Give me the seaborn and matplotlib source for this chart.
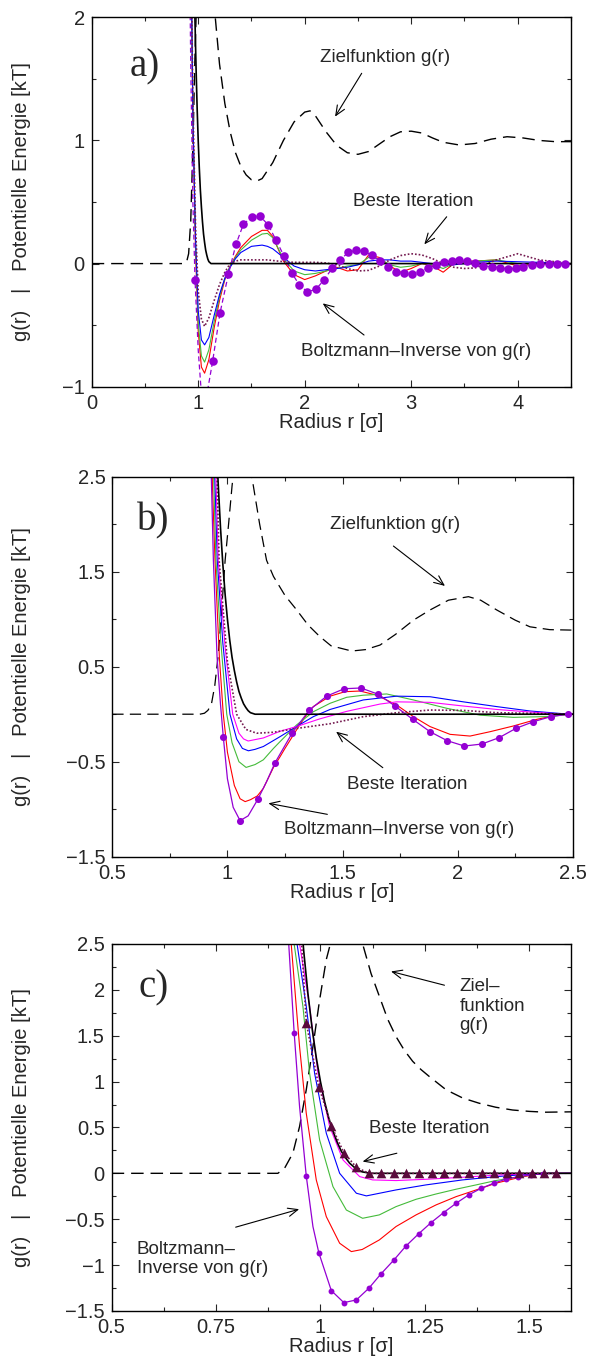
"""
Iterative Boltzmann-Inversion: Potentiale der Iterationen im Vergleich (a, b, c).
"""

import numpy as np
import seaborn as sns
import matplotlib.pyplot as plt
from matplotlib.ticker import FixedLocator, MultipleLocator

# ---- Daten ----

# Zielpotential (schwarz, durchgezogen), in allen Teilbildern gleich
wca_x = [0.93, 0.94, 0.95, 0.96, 0.97, 0.98, 0.99, 1.0, 1.01, 1.02,
         1.03, 1.04, 1.05, 1.06, 1.07, 1.08, 1.09, 1.1, 1.12, 4.5]
wca_y = [4.37, 3.61, 2.96, 2.42, 1.96, 1.58, 1.26, 1.0, 0.78, 0.6,
         0.46, 0.34, 0.24, 0.17, 0.11, 0.07, 0.037, 0.016, 0.0, 0.0]

# --- a) ---
a_g_x = [0.0, 0.86, 0.89, 0.91, 0.93, 0.95, 0.97, 1.0, 1.05, 1.1,
         1.16, 1.2, 1.25, 1.3, 1.35, 1.4, 1.45, 1.5, 1.55, 1.6,
         1.7, 1.8, 1.9, 2.0, 2.05, 2.1, 2.2, 2.3, 2.4, 2.5,
         2.6, 2.7, 2.8, 2.9, 3.0, 3.1, 3.2, 3.3, 3.45, 3.6,
         3.75, 3.9, 4.05, 4.2, 4.35, 4.5]
a_g_y = [0.0, 0.0, 0.01, 0.08, 0.35, 0.95, 1.7, 2.6, 3.1, 2.6,
         2.0, 1.62, 1.3, 1.07, 0.9, 0.79, 0.72, 0.68, 0.67, 0.69,
         0.82, 1.0, 1.15, 1.23, 1.24, 1.2, 1.07, 0.96, 0.9, 0.887,
         0.91, 0.97, 1.03, 1.07, 1.075, 1.06, 1.02, 0.985, 0.963, 0.975,
         1.01, 1.03, 1.02, 1.0, 0.99, 0.99]

a_it_x = [0.92, 0.95, 0.975, 1.0, 1.03, 1.06, 1.10, 1.15, 1.2, 1.25,
          1.3, 1.35, 1.4, 1.5, 1.6, 1.65, 1.7, 1.8, 1.9, 2.0,
          2.1, 2.2, 2.3, 2.4, 2.5, 2.6, 2.7, 2.8, 2.9, 3.0,
          3.1, 3.2, 3.3, 3.4, 3.5, 3.6, 3.8, 4.0, 4.2, 4.5]
a_red_y = [3.5, 1.2, 0.1, -0.55, -0.84, -0.89, -0.78, -0.52, -0.3, -0.13,
           -0.02, 0.06, 0.13, 0.22, 0.27, 0.27, 0.22, 0.02, -0.09, -0.13,
           -0.10, -0.06, -0.03, -0.06, -0.05, 0.07, 0.05, -0.02, -0.07, -0.04,
           0.0, -0.02, -0.07, 0.0, 0.02, 0.02, 0.03, -0.02, 0.0, 0.0]
a_green_y = [3.5, 1.2, 0.15, -0.48, -0.75, -0.80, -0.70, -0.47, -0.27, -0.12,
             -0.02, 0.05, 0.11, 0.19, 0.24, 0.245, 0.21, 0.04, -0.06, -0.09,
             -0.08, -0.06, -0.04, -0.02, -0.01, 0.05, 0.04, -0.01, -0.03, -0.02,
             0.0, -0.01, -0.04, 0.0, 0.01, 0.02, 0.03, 0.0, 0.0, 0.0]
a_blue_y = [3.5, 1.2, 0.2, -0.38, -0.62, -0.66, -0.60, -0.42, -0.25, -0.12,
            -0.03, 0.04, 0.09, 0.14, 0.15, 0.14, 0.12, 0.05, -0.02, -0.05,
            -0.06, -0.05, -0.04, -0.03, -0.01, 0.02, 0.03, 0.03, 0.02, 0.02,
            0.01, 0.0, -0.01, -0.01, 0.0, 0.01, 0.02, 0.015, 0.01, 0.0]
a_best_y = [3.5, 1.3, 0.3, -0.22, -0.45, -0.51, -0.44, -0.30, -0.17, -0.07,
            0.0, 0.02, 0.03, 0.03, 0.03, 0.03, 0.025, 0.015, 0.01, 0.01,
            0.01, 0.005, -0.01, -0.04, -0.06, -0.055, -0.02, 0.03, 0.065, 0.08,
            0.07, 0.04, 0.0, -0.03, -0.04, -0.035, 0.03, 0.08, 0.03, 0.0]

# Boltzmann-Inverse: Punkte + Zwischenpunkte der Linie
a_bi_dot_x = [0.97, 1.05, 1.136, 1.205, 1.283, 1.355, 1.424, 1.502, 1.58, 1.658,
              1.731, 1.806, 1.878, 1.95, 2.025, 2.103, 2.181, 2.256, 2.332, 2.41,
              2.482, 2.557, 2.63, 2.707, 2.785, 2.857, 2.93, 3.005, 3.083, 3.155,
              3.233, 3.308, 3.38, 3.452, 3.527, 3.6, 3.677, 3.756, 3.834, 3.906,
              3.981, 4.05, 4.13, 4.21, 4.29, 4.366, 4.44]
a_bi_dot_y = [-0.13, -1.12, -0.79, -0.40, -0.088, 0.158, 0.318, 0.38, 0.386, 0.313,
              0.19, 0.061, -0.075, -0.175, -0.229, -0.21, -0.134, -0.039, 0.028, 0.093,
              0.107, 0.10, 0.069, 0.023, -0.026, -0.066, -0.08, -0.085, -0.066, -0.039,
              -0.012, 0.01, 0.023, 0.028, 0.023, 0.007, -0.018, -0.026, -0.034, -0.042,
              -0.039, -0.026, -0.012, -0.004, 0.0, 0.0, 0.0]
a_bi_ex_x = [0.90, 0.93, 0.95, 1.0, 1.025, 1.09, 4.5]
a_bi_ex_y = [4.0, 1.6, 0.5, -0.7, -1.0, -1.02, 0.0]

# --- b) ---
b_g_x = [0.5, 0.88, 0.9, 0.915, 0.93, 0.945, 0.96, 0.975, 0.99, 1.005,
         1.02, 1.04, 1.06, 1.085, 1.106, 1.14, 1.17, 1.2, 1.25, 1.3,
         1.35, 1.4, 1.45, 1.54, 1.6, 1.663, 1.73, 1.808, 1.88, 1.96,
         2.047, 2.1, 2.17, 2.25, 2.314, 2.4, 2.5]
b_g_y = [0.0, 0.0, 0.01, 0.04, 0.1, 0.3, 0.62, 1.1, 1.62, 2.0,
         2.4, 2.85, 3.0, 2.85, 2.5, 2.0, 1.62, 1.45, 1.25, 1.1,
         0.94, 0.82, 0.72, 0.665, 0.68, 0.728, 0.84, 0.99, 1.097, 1.2,
         1.237, 1.2, 1.097, 0.99, 0.92, 0.89, 0.885]

b_red_x = [0.925, 0.935, 0.946, 0.965, 0.982, 1.0, 1.03, 1.055, 1.077, 1.1,
           1.13, 1.156, 1.2, 1.228, 1.25, 1.3, 1.345, 1.373, 1.446, 1.511,
           1.576, 1.649, 1.735, 1.808, 1.88, 1.967, 2.054, 2.141, 2.242, 2.344,
           2.43, 2.5]
b_red_y = [3.5, 2.4, 1.62, 0.6, 0.0, -0.4, -0.75, -0.89, -0.92, -0.9,
           -0.86, -0.78, -0.56, -0.45, -0.36, -0.166, 0.0, 0.08, 0.19, 0.237,
           0.244, 0.2, 0.097, -0.026, -0.13, -0.212, -0.23, -0.184, -0.124, -0.054,
           -0.01, 0.0]
b_green_x = [0.925, 0.94, 0.95, 0.97, 0.997, 1.02, 1.05, 1.081, 1.12, 1.156,
             1.2, 1.228, 1.3, 1.373, 1.446, 1.518, 1.59, 1.692, 1.808, 1.953,
             2.097, 2.242, 2.387, 2.5]
b_green_y = [3.5, 2.5, 1.62, 0.8, 0.0, -0.3, -0.5, -0.56, -0.53, -0.48,
             -0.36, -0.29, -0.114, 0.026, 0.115, 0.178, 0.2, 0.213, 0.15, 0.062,
             -0.01, -0.033, -0.025, 0.0]
b_blue_x = [0.93, 0.945, 0.956, 0.98, 1.011, 1.04, 1.065, 1.091, 1.12, 1.156,
            1.228, 1.3, 1.373, 1.446, 1.59, 1.735, 1.88, 2.025, 2.17, 2.314,
            2.46, 2.5]
b_blue_y = [3.5, 2.5, 1.62, 0.75, 0.0, -0.26, -0.36, -0.385, -0.37, -0.34,
            -0.237, -0.13, -0.026, 0.05, 0.15, 0.19, 0.184, 0.13, 0.08, 0.034,
            0.005, 0.0]
b_mag_x = [0.935, 0.95, 0.96, 0.99, 1.023, 1.05, 1.07, 1.09, 1.156, 1.228,
           1.3, 1.4, 1.518, 1.663, 1.735, 1.88, 2.025, 2.17, 2.314, 2.46, 2.5]
b_mag_y = [3.5, 2.5, 1.62, 0.7, 0.0, -0.2, -0.26, -0.282, -0.25, -0.18,
           -0.13, -0.05, 0.03, 0.107, 0.13, 0.125, 0.086, 0.05, 0.023, 0.0, 0.0]
b_best_x = [0.94, 0.955, 0.964, 1.0, 1.04, 1.08, 1.127, 1.2, 1.3, 1.446,
            1.59, 1.735, 1.88, 2.025, 2.17, 2.314, 2.46, 2.5]
b_best_y = [3.5, 2.5, 1.62, 0.55, 0.0, -0.16, -0.2, -0.19, -0.15, -0.1,
            -0.026, 0.016, 0.044, 0.04, 0.016, 0.01, 0.0, 0.0]

b_bi_dot_x = [0.982, 1.055, 1.132, 1.207, 1.282, 1.356, 1.431, 1.507, 1.58, 1.656,
              1.728, 1.805, 1.88, 1.955, 2.029, 2.105, 2.18, 2.254, 2.329, 2.404,
              2.48]
b_bi_dot_y = [-0.237, -1.12, -0.896, -0.51, -0.195, 0.044, 0.19, 0.268, 0.276, 0.209,
              0.086, -0.054, -0.184, -0.279, -0.335, -0.314, -0.247, -0.148, -0.079, -0.026,
              0.0]
b_bi_ex_x = [0.915, 0.93, 0.939, 0.955, 0.97, 1.0, 1.025, 1.09, 1.17, 2.5]
b_bi_ex_y = [3.5, 2.5, 1.62, 0.6, 0.1, -0.68, -0.98, -1.07, -0.71, 0.0]

# --- c) ---
c_g_x = [0.5, 0.898, 0.914, 0.934, 0.95, 0.966, 0.982, 0.998, 1.014, 1.026,
         1.04, 1.06, 1.08, 1.101, 1.121, 1.141, 1.161, 1.181, 1.201, 1.221,
         1.241, 1.261, 1.301, 1.341, 1.38, 1.42, 1.46, 1.5, 1.54, 1.6]
c_g_y = [0.0, 0.0, 0.055, 0.22, 0.51, 0.91, 1.38, 1.89, 2.33, 2.54,
         2.85, 3.0, 2.85, 2.5, 2.18, 1.93, 1.68, 1.49, 1.34, 1.22,
         1.13, 1.054, 0.91, 0.82, 0.764, 0.72, 0.69, 0.675, 0.666, 0.67]

c_red_x = [0.925, 0.93, 0.942, 0.95, 0.966, 0.99, 1.014, 1.046, 1.074, 1.1,
           1.141, 1.181, 1.229, 1.277, 1.325, 1.373, 1.42, 1.468, 1.516, 1.55, 1.6]
c_red_y = [3.0, 2.5, 1.82, 1.38, 0.655, -0.072, -0.472, -0.762, -0.853, -0.83,
           -0.726, -0.58, -0.453, -0.344, -0.254, -0.181, -0.108, -0.054, -0.01, 0.0, 0.0]
c_green_x = [0.93, 0.937, 0.958, 0.974, 0.998, 1.03, 1.062, 1.101, 1.141, 1.181,
             1.229, 1.277, 1.325, 1.373, 1.42, 1.468, 1.516, 1.55, 1.6]
c_green_y = [3.0, 2.5, 1.82, 1.09, 0.364, -0.145, -0.4, -0.49, -0.453, -0.363,
             -0.283, -0.225, -0.173, -0.126, -0.079, -0.043, -0.01, 0.0, 0.0]
c_blue_x = [0.937, 0.944, 0.966, 0.986, 1.014, 1.046, 1.086, 1.11, 1.181, 1.253,
            1.34, 1.42, 1.5, 1.55, 1.6]
c_blue_y = [3.0, 2.5, 1.82, 1.09, 0.437, 0.0, -0.217, -0.246, -0.181, -0.126,
            -0.072, -0.036, -0.01, 0.0, 0.0]
c_mag_x = [0.943, 0.95, 0.974, 0.994, 1.022, 1.054, 1.094, 1.125, 1.181, 1.253,
           1.34, 1.42, 1.5, 1.55, 1.6]
c_mag_y = [3.0, 2.5, 1.82, 1.09, 0.51, 0.146, -0.036, -0.072, -0.079, -0.065,
           -0.043, -0.02, -0.005, 0.0, 0.0]

# Beste Iteration: Dreiecke + Zwischenpunkte
c_best_tri_x = [0.966, 0.996, 1.026, 1.056, 1.086, 1.116, 1.146, 1.176, 1.206, 1.236,
                1.266, 1.296, 1.326, 1.356, 1.386, 1.416, 1.446, 1.476, 1.506, 1.536,
                1.565]
c_best_tri_y = [1.64, 0.945, 0.517, 0.226, 0.066, 0.0, 0.0, 0.0, 0.0, 0.0,
                0.0, 0.0, 0.0, 0.0, 0.0, 0.0, 0.0, 0.0, 0.0, 0.0,
                0.0]
c_best_ex_x = [0.95, 0.955]
c_best_ex_y = [3.0, 2.5]

c_bi_dot_x = [0.937, 0.966, 0.996, 1.026, 1.056, 1.086, 1.116, 1.145, 1.176, 1.205,
              1.235, 1.265, 1.295, 1.325, 1.355, 1.385, 1.415, 1.444, 1.474, 1.504,
              1.534]
c_bi_dot_y = [1.534, -0.028, -0.864, -1.278, -1.409, -1.38, -1.252, -1.096, -0.944, -0.791,
              -0.66, -0.537, -0.428, -0.326, -0.235, -0.163, -0.108, -0.064, -0.036, -0.017,
              -0.005]
c_bi_ex_x = [0.92, 0.95, 0.982, 1.6]
c_bi_ex_y = [2.8, 0.727, -0.58, 0.0]

# Achsenbeschriftungen
a_xticks, a_xlabels = [0, 1, 2, 3, 4], ["0", "1", "2", "3", "4"]
a_yticks, a_ylabels = [-1, 0, 1, 2], ["\u22121", "0", "1", "2"]
b_xticks, b_xlabels = [0.5, 1, 1.5, 2, 2.5], ["0.5", "1", "1.5", "2", "2.5"]
b_yticks, b_ylabels = [-1.5, -0.5, 0.5, 1.5, 2.5], ["\u22121.5", "\u22120.5", "0.5", "1.5", "2.5"]
c_xticks, c_xlabels = [0.5, 0.75, 1, 1.25, 1.5], ["0.5", "0.75", "1", "1.25", "1.5"]
c_yticks = [-1.5, -1, -0.5, 0, 0.5, 1, 1.5, 2, 2.5]
c_ylabels = ["\u22121.5", "\u22121", "\u22120.5", "0", "0.5", "1", "1.5", "2", "2.5"]

PURPLE = "#9400d3"
RED = "#ff0000"
GREEN = "#44bb3a"
BLUE = "#0000ff"
MAGENTA = "#ff00ff"
MAROON = "#741a50"
TRI = "#5a0a3c"

FS = 14.5
FS_TXT = 13.5


def line(ax, x, y, color, lw=0.8, ls="-", z=2):
    sns.lineplot(x=x, y=y, ax=ax, color=color, lw=lw, linestyle=ls,
                 sort=False, estimator=None, zorder=z)


def points(ax, x, y, color, s, marker="o", z=5):
    sns.scatterplot(x=x, y=y, ax=ax, color=color, s=s, marker=marker,
                    linewidth=0, zorder=z)


def merged(ex_x, ex_y, dx, dy):
    """Linie aus Punkten + Zwischenpunkten, nach r sortiert"""
    x = np.concatenate([ex_x, dx])
    y = np.concatenate([ex_y, dy])
    o = np.argsort(x)
    return x[o], y[o]


def arrow(ax, tail, head):
    ax.annotate("", xy=head, xytext=tail,
                arrowprops=dict(arrowstyle="->,head_length=0.7,head_width=0.3",
                                lw=0.8, color="black", shrinkA=0, shrinkB=0))


def style_axes(ax, xlim, ylim, xt, xl, yt, yl, xminor, yminor, tag, tagpos):
    ax.set_xlim(*xlim)
    ax.set_ylim(*ylim)
    ax.xaxis.set_major_locator(FixedLocator(xt))
    ax.set_xticklabels(xl)
    ax.yaxis.set_major_locator(FixedLocator(yt))
    ax.set_yticklabels(yl)
    ax.xaxis.set_minor_locator(MultipleLocator(xminor))
    ax.yaxis.set_minor_locator(MultipleLocator(yminor))
    ax.tick_params(which="both", direction="in", top=True, right=True,
                   labelsize=FS, width=0.8)
    ax.tick_params(which="major", length=5, pad=5)
    ax.tick_params(which="minor", length=3)
    for sp in ax.spines.values():
        sp.set_linewidth(1.0)
        sp.set_color("black")
    ax.set_xlabel("Radius r [\u03c3]", fontsize=FS, labelpad=0)
    ax.set_ylabel("")
    ax.text(tagpos[0], tagpos[1], tag, ha="center", va="center", fontsize=28,
            family=["Liberation Serif", "DejaVu Serif"])


def main():
    sns.set_style("ticks")
    plt.rcParams["font.family"] = ["Liberation Sans", "DejaVu Sans"]
    plt.rcParams["axes.unicode_minus"] = True

    fig = plt.figure(figsize=(5.89, 13.69), dpi=100)
    rects = [[0.1557, 0.7175, 0.8137, 0.2699],
             [0.1907, 0.3742, 0.7817, 0.2776],
             [0.1896, 0.0424, 0.7798, 0.2681]]
    ax_a, ax_b, ax_c = [fig.add_axes(r) for r in rects]

    # ---- a) ----
    ax = ax_a
    line(ax, a_g_x, a_g_y, "black", lw=1.0, ls=(0, (9, 5)))
    line(ax, wca_x, wca_y, "black", lw=1.2, z=3)
    line(ax, a_it_x, a_red_y, RED)
    line(ax, a_it_x, a_green_y, GREEN)
    line(ax, a_it_x, a_blue_y, BLUE)
    line(ax, a_it_x, a_best_y, MAROON, lw=1.2, ls=(0, (1, 1.2)))
    px, py = merged(a_bi_ex_x, a_bi_ex_y, a_bi_dot_x, a_bi_dot_y)
    line(ax, px, py, PURPLE, lw=0.9, ls=(0, (4, 2.5)))
    points(ax, a_bi_dot_x, a_bi_dot_y, PURPLE, s=38)
    style_axes(ax, (0, 4.5), (-1, 2), a_xticks, a_xlabels, a_yticks, a_ylabels,
               0.5, 0.5, "a)", (0.5, 1.6))
    ax.text(2.75, 1.675, "Zielfunktion g(r)", ha="center", va="center", fontsize=FS_TXT)
    arrow(ax, (2.535, 1.545), (2.285, 1.193))
    ax.text(3.02, 0.508, "Beste Iteration", ha="center", va="center", fontsize=FS_TXT)
    arrow(ax, (3.333, 0.38), (3.123, 0.156))
    ax.text(3.05, -0.716, "Boltzmann\u2013Inverse von g(r)", ha="center", va="center",
            fontsize=FS_TXT)
    arrow(ax, (2.557, -0.58), (2.169, -0.323))

    # ---- b) ----
    ax = ax_b
    line(ax, b_g_x, b_g_y, "black", lw=0.9, ls=(0, (9, 5)))
    line(ax, wca_x, wca_y, "black", lw=1.2, z=3)
    line(ax, b_red_x, b_red_y, RED)
    line(ax, b_green_x, b_green_y, GREEN)
    line(ax, b_blue_x, b_blue_y, BLUE)
    line(ax, b_mag_x, b_mag_y, MAGENTA)
    line(ax, b_best_x, b_best_y, MAROON, lw=1.2, ls=(0, (1, 1.2)))
    px, py = merged(b_bi_ex_x, b_bi_ex_y, b_bi_dot_x, b_bi_dot_y)
    line(ax, px, py, PURPLE, lw=0.9)
    points(ax, b_bi_dot_x, b_bi_dot_y, PURPLE, s=26)
    style_axes(ax, (0.5, 2.5), (-1.5, 2.5), b_xticks, b_xlabels, b_yticks, b_ylabels,
               0.25, 0.5, "b)", (0.678, 2.04))
    ax.text(1.728, 2.0, "Zielfunktion g(r)", ha="center", va="center", fontsize=FS_TXT)
    arrow(ax, (1.721, 1.77), (1.945, 1.35))
    ax.text(1.779, -0.745, "Beste Iteration", ha="center", va="center", fontsize=FS_TXT)
    arrow(ax, (1.675, -0.563), (1.472, -0.184))
    ax.text(1.747, -1.21, "Boltzmann\u2013Inverse von g(r)", ha="center", va="center",
            fontsize=FS_TXT)
    arrow(ax, (1.434, -1.054), (1.178, -0.938))

    # ---- c) ----
    ax = ax_c
    line(ax, c_g_x, c_g_y, "black", lw=1.0, ls=(0, (9, 5)))
    line(ax, wca_x, wca_y, "black", lw=1.2, z=3)
    line(ax, c_red_x, c_red_y, RED)
    line(ax, c_green_x, c_green_y, GREEN)
    line(ax, c_blue_x, c_blue_y, BLUE)
    line(ax, c_mag_x, c_mag_y, MAGENTA)
    px, py = merged(c_bi_ex_x, c_bi_ex_y, c_bi_dot_x, c_bi_dot_y)
    line(ax, px, py, PURPLE, lw=0.9)
    points(ax, c_bi_dot_x, c_bi_dot_y, PURPLE, s=18)
    bx, by = merged(c_best_ex_x, c_best_ex_y, c_best_tri_x, c_best_tri_y)
    line(ax, bx, by, MAROON, lw=1.2, ls=(0, (1, 1.2)), z=4)
    points(ax, c_best_tri_x, c_best_tri_y, TRI, s=48, marker="^", z=6)
    style_axes(ax, (0.5, 1.6), (-1.5, 2.5), c_xticks, c_xlabels, c_yticks, c_ylabels,
               0.125, 0.25, "c)", (0.6, 2.02))
    ax.text(1.333, 1.82, "Ziel\u2013\nfunktion\ng(r)", ha="left", va="center",
            fontsize=FS_TXT, linespacing=1.2)
    arrow(ax, (1.297, 2.05), (1.169, 2.2))
    ax.text(1.261, 0.484, "Beste Iteration", ha="center", va="center", fontsize=FS_TXT)
    arrow(ax, (1.183, 0.219), (1.101, 0.128))
    ax.text(0.56, -0.935, "Boltzmann\u2013\nInverse von g(r)", ha="left", va="center",
            fontsize=FS_TXT, linespacing=1.15)
    arrow(ax, (0.797, -0.587), (0.949, -0.391))

    # gemeinsame y-Beschriftung je Teilbild
    for r in rects:
        fig.text(22 / 589, r[1] + r[3] / 2, "g(r)   |   Potentielle Energie [kT]",
                 rotation=90, ha="center", va="center", fontsize=FS)

    fig.savefig("out.png", dpi=100)


if __name__ == "__main__":
    main()
